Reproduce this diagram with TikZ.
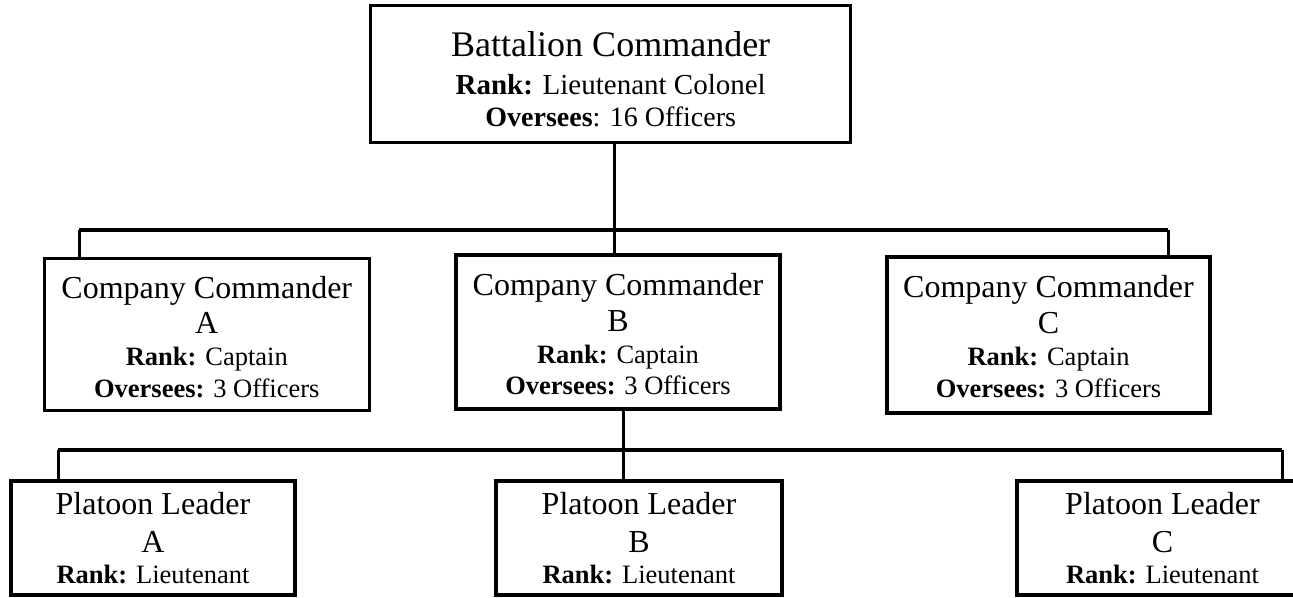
\documentclass[tikz,border=0pt]{standalone}
\usepackage{fontspec}
\setmainfont{Liberation Serif}
\begin{document}
\begin{tikzpicture}[x=1pt,y=-1pt,
  box/.style={draw, line width=3.2pt, inner sep=0pt},
  conn/.style={line width=3pt},
  busline/.style={line width=4pt},
  bigtxt/.style={anchor=base, inner sep=0pt, font=\fontsize{36}{40}\selectfont},
  midtxt/.style={anchor=base, inner sep=0pt, font=\fontsize{32}{36}\selectfont},
  smltxt/.style={anchor=base, inner sep=0pt, font=\fontsize{26.5}{30}\selectfont}]
\useasboundingbox (0,0) rectangle (1293,597);
% boxes
\node[box, minimum width=480pt, minimum height=137pt] (bc) at (610.7,74) {};
\node[box, minimum width=325pt, minimum height=152pt] (ca) at (206.8,334.5) {};
\node[box, minimum width=324pt, minimum height=154pt] (cb) at (618,332) {};
\node[box, minimum width=323pt, minimum height=156pt] (cc) at (1048.5,335) {};
\node[box, minimum width=284pt, minimum height=114pt] (pa) at (153,538) {};
\node[box, minimum width=286pt, minimum height=114pt] (pb) at (639,538) {};
\node[box, minimum width=291pt, minimum height=114pt] (pc) at (1162.5,538) {};
% texts
\node[bigtxt] (bc1) at (610.7,56.7) {Battalion Commander};
\node[smltxt, font=\fontsize{29}{32}\selectfont] (bc2) at (610.7,94) {\textbf{Rank:} Lieutenant Colonel};
\node[smltxt, font=\fontsize{28}{32}\selectfont] (bc3) at (610.7,126) {\textbf{Oversees}: 16 Officers};

\node[midtxt] (ca1) at (206.8,298) {Company Commander};
\node[midtxt] (ca2) at (206.8,333) {A};
\node[smltxt] (ca3) at (206.8,365) {\textbf{Rank:} Captain};
\node[smltxt] (ca4) at (206.8,397) {\textbf{Oversees:} 3 Officers};

\node[midtxt] (cb1) at (618,295) {Company Commander};
\node[midtxt] (cb2) at (618,331.5) {B};
\node[smltxt] (cb3) at (618,363) {\textbf{Rank:} Captain};
\node[smltxt] (cb4) at (618,394.5) {\textbf{Oversees:} 3 Officers};

\node[midtxt] (cc1) at (1048.5,297) {Company Commander};
\node[midtxt] (cc2) at (1048.5,333) {C};
\node[smltxt] (cc3) at (1048.5,365) {\textbf{Rank:} Captain};
\node[smltxt] (cc4) at (1048.5,397) {\textbf{Oversees:} 3 Officers};

\node[midtxt] (pa1) at (153,514) {Platoon Leader};
\node[midtxt] (pa2) at (153,552) {A};
\node[smltxt] (pa3) at (153,583) {\textbf{Rank:} Lieutenant};

\node[midtxt] (pb1) at (639,514) {Platoon Leader};
\node[midtxt] (pb2) at (639,552) {B};
\node[smltxt] (pb3) at (639,583) {\textbf{Rank:} Lieutenant};

\node[midtxt] (pc1) at (1162.5,514) {Platoon Leader};
\node[midtxt] (pc2) at (1162.5,552) {C};
\node[smltxt] (pc3) at (1162.5,583) {\textbf{Rank:} Lieutenant};
% bus coordinates
\coordinate (u0) at (614,229.5);
\coordinate (uL) at (79,229.5);
\coordinate (uR) at (1168,229.5);
\coordinate (l0) at (623,449.5);
\coordinate (lL) at (58,449.5);
\coordinate (lR) at (1282,449.5);
% upper connectors
\draw[conn] (bc.south -| u0) -- (u0);
\draw[busline] (uL) -- (uR);
\draw[conn] (uL) -- (uL |- ca.north);
\draw[conn] (u0) -- (u0 |- cb.north);
\draw[conn] (uR) -- (uR |- cc.north);
% lower connectors
\draw[conn] (cb.south -| l0) -- (l0);
\draw[busline] (lL) -- (lR);
\draw[conn] (lL) -- (lL |- pa.north);
\draw[conn] (l0) -- (l0 |- pb.north);
\draw[conn] (lR) -- (lR |- pc.north);
\end{tikzpicture}
\end{document}
